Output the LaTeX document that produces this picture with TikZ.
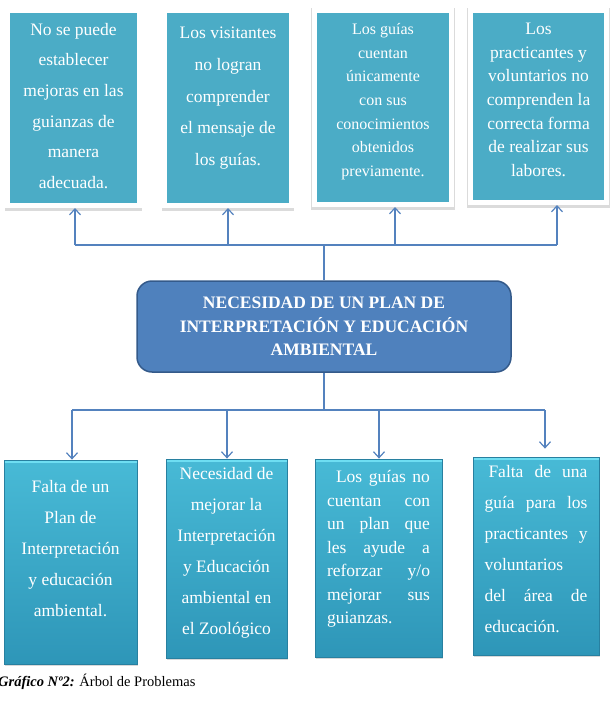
\documentclass[tikz,border=0pt]{standalone}
\usepackage{fontspec}
\setmainfont{Liberation Serif}
\usetikzlibrary{arrows.meta,positioning,shadows}
\definecolor{boxteal}{RGB}{75,172,198}
\definecolor{tealtop}{RGB}{72,186,214}
\definecolor{tealbot}{RGB}{46,150,184}
\definecolor{tealhi}{RGB}{110,222,242}
\definecolor{tealedge}{RGB}{40,128,160}
\definecolor{planblue}{RGB}{79,129,189}
\definecolor{planedge}{RGB}{52,90,138}
\definecolor{linkblue}{RGB}{84,130,190}
\newcommand{\sz}[2]{\fontsize{#1}{#2}\selectfont}
\tikzset{
  >={Straight Barb[length=6pt,width=11pt]},
  effect/.style = {draw=white, line width=5pt, fill=boxteal, inner sep=0pt,
    general shadow={shadow scale=1.045, shadow yshift=-1.5pt, fill=black, opacity=0.14}},
  cause/.style = {draw=tealedge, line width=0.8pt, top color=tealtop, bottom color=tealbot, inner sep=0pt,
    drop shadow={shadow xshift=1pt, shadow yshift=-2pt, opacity=0.3},
    path picture={\fill[tealhi] (path picture bounding box.north west) rectangle ([yshift=-3pt]path picture bounding box.north east);}},
  plan/.style = {draw=planedge, line width=1.5pt, fill=planblue, rounded corners=15pt,
    minimum width=374pt, minimum height=91pt, inner sep=0pt, align=center, text=white,
    font=\bfseries\sz{17.5}{23.5}},
  txt/.style = {inner sep=0pt, text=white, align=center},
  link/.style = {draw=linkblue, line width=1.2pt}
}

\begin{document}
\begin{tikzpicture}[x=1pt, y=-1pt]
\useasboundingbox (0,0) rectangle (612,722);

\node[effect, minimum width=132pt, minimum height=195pt] (eff1) at (73.5,108) {};
\node[effect, minimum width=127pt, minimum height=195pt] (eff2) at (228,108) {};
\node[effect, minimum width=137pt, minimum height=194pt] (eff3) at (383,107.5) {};
\node[effect, minimum width=136pt, minimum height=192pt] (eff4) at (538.5,106.5) {};

\node[txt, font=\sz{17.5}{30.6}, below=15pt of eff1.north] (eff1t) {No se puede\\establecer\\mejoras en las\\guianzas de\\manera\\adecuada.};
\node[txt, font=\sz{17.5}{31.7}, below=19pt of eff2.north] (eff2t) {Los visitantes\\no logran\\comprender\\el mensaje de\\los guías.};
\node[txt, font=\sz{16}{23.7}, below=15pt of eff3.north] (eff3t) {Los guías\\cuentan\\únicamente\\con sus\\conocimientos\\obtenidos\\previamente.};
\node[txt, font=\sz{17.5}{23.6}, below=15pt of eff4.north] (eff4t) {Los\\practicantes y\\voluntarios no\\comprenden la\\correcta forma\\de realizar sus\\labores.};

\node[plan] (plan) at (324,326.5) {NECESIDAD DE UN PLAN DE\\INTERPRETACIÓN Y EDUCACIÓN\\AMBIENTAL};

\node[cause, minimum width=133pt, minimum height=204pt] (cau1) at (70.5,562) {};
\node[cause, minimum width=121pt, minimum height=199pt] (cau2) at (226.5,558.5) {};
\node[cause, minimum width=127pt, minimum height=198pt] (cau3) at (378.5,558) {};
\node[cause, minimum width=126pt, minimum height=198pt] (cau4) at (536,556) {};

\node[txt, font=\sz{17.5}{31}, below=21pt of cau1.north] (cau1t) {Falta de un\\Plan de\\Interpretación\\y educación\\ambiental.};
\node[txt, font=\sz{17.5}{31}, below=9pt of cau2.north] (cau2t) {Necesidad de\\mejorar la\\Interpretación\\y Educación\\ambiental en\\el Zoológico};
\node[txt, text width=103pt, align=justify, font=\sz{17.5}{23.5}, below=12pt of cau3.north] (cau3t) {\hspace*{9pt}Los guías no\linebreak cuentan con\linebreak un plan que\linebreak les ayude a\linebreak reforzar y/o\linebreak mejorar sus\linebreak guianzas.};
\node[txt, text width=103pt, align=justify, font=\sz{17.5}{31}, below=9pt of cau4.north] (cau4t) {\hspace*{4pt}Falta de una\linebreak guía para los\linebreak practicantes y\linebreak voluntarios\\del área de\linebreak educación.};

\coordinate (u1) at (75,245);
\coordinate (u2) at (228,245);
\coordinate (u3) at (395,245);
\coordinate (u4) at (557,245);
\draw[link] (u1) -- (u4);
\draw[link] (plan.north) -- (plan.north |- u1);
\foreach \i in {1,...,4}
  \draw[link,->] (u\i) -- (u\i |- eff\i.south);

\coordinate (d1) at (72,410);
\coordinate (d2) at (227,410);
\coordinate (d3) at (379,410);
\coordinate (d4) at (545,410);
\draw[link] (d1) -- (d4);
\draw[link] (plan.south) -- (plan.south |- d1);
\foreach \i in {1,2,3}
  \draw[link,->] (d\i) -- (d\i |- cau\i.north);
\draw[link,->,shorten >=8pt] (d4) -- (d4 |- cau4.north);

\node[anchor=base west, inner sep=0pt, font=\sz{14.5}{17}] (cap) at (-2,686) {\textbf{\textit{Gráfico Nº2:}} Árbol de Problemas};
\end{tikzpicture}
\end{document}
